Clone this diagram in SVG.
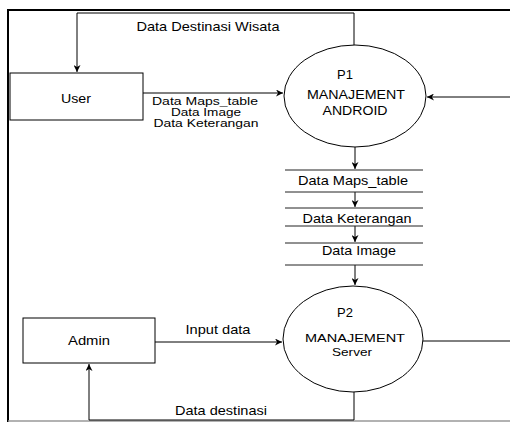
<svg xmlns="http://www.w3.org/2000/svg" width="510" height="422" viewBox="0 0 510 422">
<defs>
<marker id="arr" viewBox="0 0 10 10" refX="10" refY="5" markerWidth="7" markerHeight="7" orient="auto" markerUnits="userSpaceOnUse">
<path d="M0,0 L10,5 L0,10 L3,5 Z" fill="#000"/>
</marker>
</defs>
<style>
text{font-family:"Liberation Sans",Arial,sans-serif;font-size:13px;fill:#000;text-anchor:middle}
text.sm{font-size:11.5px}
.box{fill:#fff;stroke:#000;stroke-width:1}
.proc{fill:#fff;stroke:#000;stroke-width:1}
.ln{fill:none;stroke:#000;stroke-width:1}
.st{stroke:#222;stroke-width:1}
.fr{fill:none;stroke:#000;stroke-width:2}
</style>
<rect width="510" height="422" fill="#fff"/>
<g id="frame">
<path class="fr" d="M8,422 V10 H510"/>
<line x1="8" y1="421" x2="510" y2="421" stroke="#999" stroke-width="1.5"/>
</g>
<g id="connectors">
<path class="ln" d="M354,45 V13 H77 V72" marker-end="url(#arr)"/>
<text x="208" y="31" textLength="143" lengthAdjust="spacingAndGlyphs">Data Destinasi Wisata</text>
<path class="ln" d="M143,93 H283" marker-end="url(#arr)"/>
<text class="sm" x="205" y="105" textLength="106" lengthAdjust="spacingAndGlyphs">Data Maps_table</text>
<text class="sm" x="206" y="116" textLength="70" lengthAdjust="spacingAndGlyphs">Data Image</text>
<text class="sm" x="206" y="127" textLength="105" lengthAdjust="spacingAndGlyphs">Data Keterangan</text>
<path class="ln" d="M510,97 H427" marker-end="url(#arr)"/>
<path class="ln" d="M355,147 V169" marker-end="url(#arr)"/>
<path class="ln" d="M355,192 V207" marker-end="url(#arr)"/>
<path class="ln" d="M355,226 V242" marker-end="url(#arr)"/>
<path class="ln" d="M355,265 V285" marker-end="url(#arr)"/>
<path class="ln" d="M155,342 H282" marker-end="url(#arr)"/>
<text x="218" y="334" textLength="65" lengthAdjust="spacingAndGlyphs">Input data</text>
<path class="ln" d="M423,341 H510"/>
<path class="ln" d="M354,392 V420 H89 V364" marker-end="url(#arr)"/>
<text x="221" y="415" textLength="92" lengthAdjust="spacingAndGlyphs">Data destinasi</text>
</g>
<g id="user">
<rect class="box" x="10" y="73" width="133" height="47"/>
<text x="76" y="103" textLength="30" lengthAdjust="spacingAndGlyphs">User</text>
</g>
<g id="p1">
<ellipse class="proc" cx="355" cy="96" rx="71" ry="51"/>
<text x="345" y="79">P1</text>
<text x="356" y="99" textLength="98" lengthAdjust="spacingAndGlyphs">MANAJEMENT</text>
<text x="355" y="115" textLength="65" lengthAdjust="spacingAndGlyphs">ANDROID</text>
</g>
<g id="store-maps">
<line class="st" x1="285" y1="170" x2="423" y2="170"/>
<line class="st" x1="285" y1="192" x2="423" y2="192"/>
<text x="353" y="185" textLength="110" lengthAdjust="spacingAndGlyphs">Data Maps_table</text>
</g>
<g id="store-keterangan">
<line class="st" x1="285" y1="208" x2="423" y2="208"/>
<line class="st" x1="285" y1="226" x2="423" y2="226"/>
<text x="357" y="223" textLength="109" lengthAdjust="spacingAndGlyphs">Data Keterangan</text>
</g>
<g id="store-image">
<line class="st" x1="285" y1="243" x2="423" y2="243"/>
<line class="st" x1="285" y1="265" x2="423" y2="265"/>
<text x="359" y="255" textLength="74" lengthAdjust="spacingAndGlyphs">Data Image</text>
</g>
<g id="p2">
<ellipse class="proc" cx="353" cy="339" rx="70" ry="53"/>
<text x="345" y="317">P2</text>
<text class="sm" x="355" y="342" textLength="100" lengthAdjust="spacingAndGlyphs">MANAJEMENT</text>
<text class="sm" x="352" y="356" textLength="40" lengthAdjust="spacingAndGlyphs">Server</text>
</g>
<g id="admin">
<rect class="box" x="23" y="318" width="132" height="45"/>
<text x="89" y="345" textLength="42" lengthAdjust="spacingAndGlyphs">Admin</text>
</g>
</svg>
